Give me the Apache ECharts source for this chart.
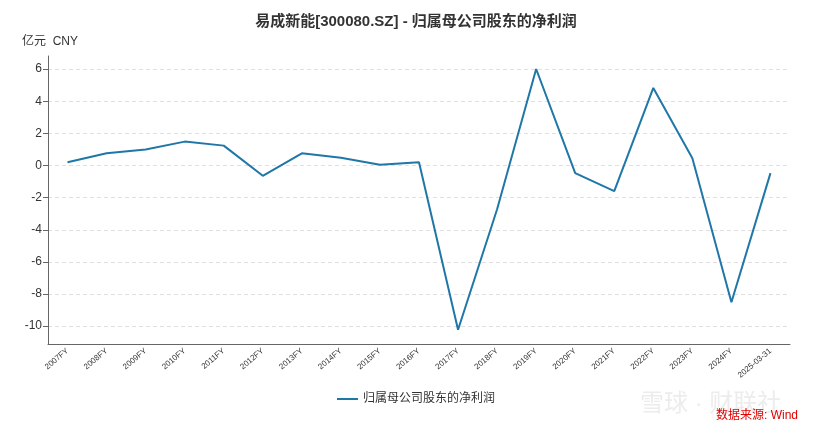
<!DOCTYPE html>
<html>
<head>
<meta charset="utf-8">
<script src="https://cdn.jsdelivr.net/npm/echarts@6/dist/echarts.min.js"></script>
<style>
html,body{margin:0;padding:0;background:#fff;}
#chart{width:832px;height:434px;}
</style>
</head>
<body>
<div id="chart"></div>
<script>
const categories = ['2007FY','2008FY','2009FY','2010FY','2011FY','2012FY','2013FY','2014FY','2015FY','2016FY','2017FY','2018FY','2019FY','2020FY','2021FY','2022FY','2023FY','2024FY','2025-03-31'];
const netProfit = [0.21, 0.77, 1.0, 1.49, 1.24, -0.64, 0.76, 0.48, 0.05, 0.21, -10.22, -2.72, 6.01, -0.47, -1.59, 4.83, 0.46, -8.51, -0.47];
const yTicks = [-10, -8, -6, -4, -2, 0, 2, 4, 6];
const seriesName = '归属母公司股东的净利润';
const titleText = '易成新能[300080.SZ] - 归属母公司股东的净利润';
const unitText = '亿元  CNY';
const sourceText = '数据来源: Wind';

const chart = echarts.init(document.getElementById('chart'));
const font = 'Helvetica, Arial, "Liberation Sans", "Noto Sans CJK SC", sans-serif';
chart.setOption({
  animation: false,
  backgroundColor: '#fff',
  textStyle: { fontFamily: font },
  title: {
    text: titleText,
    left: 'center',
    top: 9,
    textStyle: { fontSize: 15, fontWeight: 'bold', color: '#333', fontFamily: font }
  },
  graphic: [
    { type: 'text', left: 22, top: 36, style: { text: unitText, fontSize: 12, fill: '#333', fontFamily: font } },
    { type: 'text', left: 640, top: 392, style: { text: '雪球 · 财联社', fontSize: 24, fill: 'rgba(200,200,200,0.35)', fontFamily: font } },
    { type: 'text', left: 716, top: 410, style: { text: sourceText, fontSize: 12, fill: '#e00000', fontFamily: font } }
  ],
  legend: {
    bottom: 24,
    left: 'center',
    itemWidth: 21,
    itemHeight: 10,
    data: [{ name: seriesName, icon: 'path://M0,4 L21,4 L21,6 L0,6 Z' }],
    textStyle: { fontSize: 12, color: '#333', fontFamily: font }
  },
  grid: { left: 48, right: 42, top: 56, bottom: 90, containLabel: false },
  xAxis: {
    type: 'category',
    data: categories,
    boundaryGap: true,
    axisLine: { onZero: false, lineStyle: { color: '#666' } },
    axisTick: { alignWithLabel: true, length: 5, lineStyle: { color: '#888' } },
    axisLabel: { rotate: 40, fontSize: 8, color: '#333', interval: 0, margin: 6 }
  },
  yAxis: {
    type: 'value',
    min: v => +(v.min - (v.max - v.min) * 0.055).toFixed(2),
    max: v => +(v.max + (v.max - v.min) * 0.05).toFixed(2),
    axisLine: { show: true, lineStyle: { color: '#666' } },
    axisTick: { show: true, length: 5, customValues: yTicks, lineStyle: { color: '#666' } },
    axisLabel: { fontSize: 12, color: '#333', margin: 6, customValues: yTicks },
    splitLine: { show: true, lineStyle: { color: '#e0e0e0', type: [4, 3] } }
  },
  series: [{
    name: seriesName,
    type: 'line',
    data: netProfit,
    symbol: 'none',
    lineStyle: { color: '#1f77a8', width: 2 },
    itemStyle: { color: '#1f77a8' }
  }]
});
</script>
</body>
</html>
